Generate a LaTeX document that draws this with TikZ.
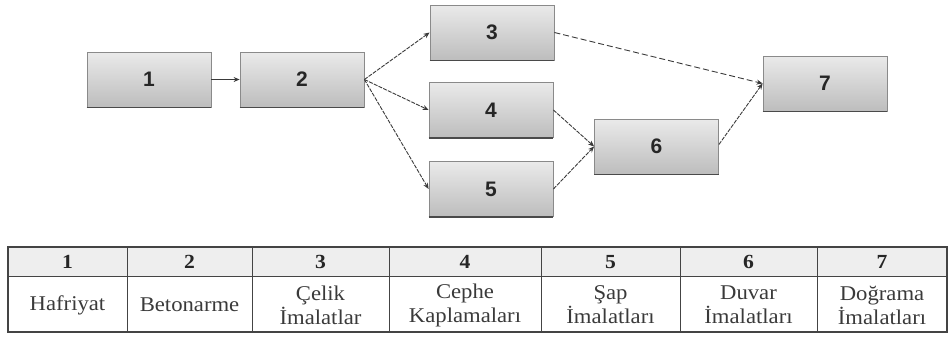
\documentclass[tikz,border=0pt]{standalone}
\usepackage{fontspec}
\setmainfont{Liberation Serif}
\newfontfamily\boxfont{Liberation Sans}
\newfontfamily\tabfont[FakeStretch=1.08]{Liberation Serif}
\usetikzlibrary{arrows.meta}
\definecolor{boxtop}{HTML}{EAEAEA}
\definecolor{boxbot}{HTML}{BDBDBD}
\definecolor{boxline}{HTML}{8A8A8A}
\definecolor{boxedge}{HTML}{4A4A4A}
\definecolor{linkcol}{HTML}{3A3A3A}
\definecolor{tabtext}{HTML}{3A3A3A}
\definecolor{tabhead}{HTML}{EEEEEE}
\definecolor{tabline}{HTML}{444444}
\tikzset{
  taskbox/.style={draw=boxline, line width=0.8pt, top color=boxtop, bottom color=boxbot,
    minimum width=124pt, minimum height=55pt, inner sep=0pt,
    font=\boxfont\bfseries\fontsize{21}{21}\selectfont, text=black!85,
    append after command={(\tikzlastnode.south west) edge[draw=boxedge, line width=1.4pt] (\tikzlastnode.south east)}},
  link/.style={draw=linkcol, line width=0.9pt, -{Stealth[length=6pt,width=5pt]}},
  linkd/.style={link, dash pattern=on 4pt off 1.2pt},
  linkl/.style={link, dash pattern=on 6pt off 3pt},
  headcell/.style={inner sep=0pt, font=\tabfont\bfseries\fontsize{20}{20}\selectfont, text=black!85},
  bodycell/.style={inner sep=0pt, align=center, font=\tabfont\fontsize{21}{24}\selectfont, text=tabtext},
}
\begin{document}
\begin{tikzpicture}[x=1pt,y=-1pt]
\useasboundingbox (0,0) rectangle (949,338);
% network
\node[taskbox] (b1) at (149,79.5) {1};
\node[taskbox] (b2) at (302,79.5) {2};
\node[taskbox] (b3) at (492,32.5) {3};
\node[taskbox] (b4) at (491,110) {4};
\node[taskbox] (b5) at (491,189) {5};
\node[taskbox] (b6) at (656.5,146.5) {6};
\node[taskbox] (b7) at (825,83.5) {7};
\draw[link] (b1) -- (b2);
\draw[linkd] (b2.east) -- (b3.west);
\draw[linkd] (b2.east) -- (b4.west);
\draw[linkd] (b2.east) -- (b5.west);
\draw[linkl] (b3.east) -- (b7.west);
\draw[linkd] (b4.east) -- (b6.west);
\draw[linkd] (b5.east) -- (b6.west);
\draw[linkd] ([yshift=2pt]b6.east) -- (b7.west);
% table
\fill[tabhead] (8,247) rectangle (947,276);
\draw[tabline, line width=0.8pt] (8,276) -- (947,276);
\foreach \x in {127,252,389,541,680,817}
  \draw[tabline, line width=0.8pt] (\x,247) -- (\x,332);
\draw[tabline, line width=1.2pt] (8,247) rectangle (947,332);
\node[headcell] (h1) at (67.5,262) {1};
\node[headcell] (h2) at (189.5,262) {2};
\node[headcell] (h3) at (320.5,262) {3};
\node[headcell] (h4) at (465,262) {4};
\node[headcell] (h5) at (610.5,262) {5};
\node[headcell] (h6) at (748.5,262) {6};
\node[headcell] (h7) at (882,262) {7};
\node[bodycell] (c1) at (67.5,305) {Hafriyat};
\node[bodycell] (c2) at (189.5,305) {Betonarme};
\node[bodycell] (c3) at (320.5,305) {Çelik\\İmalatlar};
\node[bodycell] (c4) at (465,305) {Cephe\\Kaplamaları};
\node[bodycell] (c5) at (610.5,305) {Şap\\İmalatları};
\node[bodycell] (c6) at (748.5,305) {Duvar\\İmalatları};
\node[bodycell] (c7) at (882,305) {Doğrama\\İmalatları};
\end{tikzpicture}
\end{document}
